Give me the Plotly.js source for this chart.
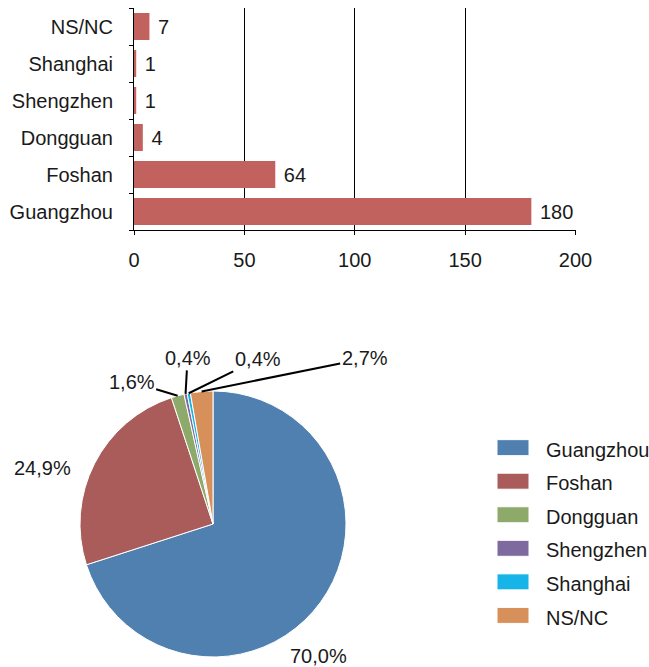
<!DOCTYPE html>
<html>
<head>
<meta charset="utf-8">
<script src="https://cdn.plot.ly/plotly-3.0.1.min.js"></script>
<style>
  html, body { margin: 0; padding: 0; background: #fff; overflow: hidden; }
  #chart { width: 649px; height: 667px; }
  .legend .legendtext { font-size: 20px !important; }
</style>
</head>
<body>
<div id="chart"></div>
<script>
// ---- data ----
const categories = ['Guangzhou', 'Foshan', 'Dongguan', 'Shengzhen', 'Shanghai', 'NS/NC'];
const counts = [180, 64, 4, 1, 1, 7];
const xTickValues = [0, 50, 100, 150, 200];
const pieColors = ['#4F80B0', '#AA5C5A', '#8EAA6A', '#7E6A9E', '#17B4E7', '#D8905A'];
const barColor = '#C1625E';

// ---- layout geometry (style) ----
const W = 649, H = 667;
const FONT = 'Liberation Sans, Arial, Helvetica, sans-serif';
const pieCx = 213, pieCy = 524, pieR = 133;
const pieDomX = [(pieCx - pieR) / W, (pieCx + pieR) / W];
const pieDomY = [(H - pieCy - pieR) / H, (H - pieCy + pieR) / H];

// label offsets for pie texts (pixels), style only
const labelOffsets = [
  {arrow: false, dx: -2, dy: 54},
  {arrow: false, dx: -52, dy: 4},
  {arrow: true, dx: -46, dy: -14},
  {arrow: true, dx: 2, dy: -36},
  {arrow: true, dx: 69, dy: -34},
  {arrow: true, dx: 163, dy: -33}
];

const total = counts.reduce((a, b) => a + b, 0);
const annotations = [];
let cum = 0;
counts.forEach((v, i) => {
  const frac = v / total;
  const mid = (cum + frac / 2) * 2 * Math.PI; // clockwise from top
  cum += frac;
  const px = pieCx + pieR * Math.sin(mid);
  const py = pieCy - pieR * Math.cos(mid);
  const txt = (frac * 100).toFixed(1).replace('.', ',') + '%';
  const o = labelOffsets[i];
  const a = {
    xref: 'paper', yref: 'paper',
    x: px / W, y: 1 - py / H,
    text: txt,
    font: {family: FONT, size: 20, color: '#1a1a1a'},
    xanchor: 'center', yanchor: 'middle'
  };
  if (o.arrow) {
    Object.assign(a, {showarrow: true, ax: o.dx, ay: o.dy, axref: 'pixel', ayref: 'pixel',
      arrowhead: 0, arrowwidth: 2, arrowcolor: '#000', standoff: 0, startstandoff: 0});
  } else {
    Object.assign(a, {showarrow: false, xshift: o.dx, yshift: -o.dy});
  }
  annotations.push(a);
});

const barTrace = {
  type: 'bar',
  orientation: 'h',
  y: categories,
  x: counts,
  marker: {color: barColor},
  width: 0.725,
  text: counts.map(v => '\u00a0' + v),
  textposition: 'outside',
  textfont: {family: FONT, size: 20, color: '#1a1a1a'},
  cliponaxis: false,
  showlegend: false,
  hoverinfo: 'x+y'
};

const pieTrace = {
  type: 'pie',
  labels: categories,
  values: counts,
  sort: false,
  direction: 'clockwise',
  rotation: 0,
  marker: {colors: pieColors, line: {color: '#ffffff', width: 1}},
  textinfo: 'none',
  domain: {x: pieDomX, y: pieDomY},
  showlegend: true
};

const layout = {
  width: W, height: H,
  margin: {l: 0, r: 0, t: 0, b: 0, autoexpand: false},
  paper_bgcolor: '#fff', plot_bgcolor: '#fff',
  font: {family: FONT, size: 20, color: '#1a1a1a'},
  separators: ', ',
  showlegend: true,
  xaxis: {
    domain: [134 / W, 575.5 / W],
    range: [0, 200],
    tickvals: xTickValues,
    showgrid: true, gridcolor: '#000', gridwidth: 1,
    zeroline: false,
    showline: true, linecolor: '#000', linewidth: 1,
    ticks: 'outside', ticklen: 4, tickcolor: '#000',
    tickfont: {family: FONT, size: 20, color: '#1a1a1a'},
    ticklabelstandoff: 8,
    anchor: 'y', fixedrange: true
  },
  yaxis: {
    domain: [(H - 230) / H, (H - 8) / H],
    type: 'category',
    categoryorder: 'array', categoryarray: categories,
    showline: true, linecolor: '#000', linewidth: 1,
    ticks: 'outside', ticklen: 4, tickcolor: '#000',
    tickson: 'boundaries',
    showgrid: false,
    tickfont: {family: FONT, size: 20, color: '#1a1a1a'},
    ticklabelstandoff: 16,
    anchor: 'x', fixedrange: true
  },
  legend: {
    x: 480 / W, y: 0.3615, xanchor: 'left', yanchor: 'top',
    font: {family: FONT, size: 23.5, color: '#1a1a1a'},
    itemwidth: 56,
    bgcolor: 'rgba(0,0,0,0)',
    traceorder: 'normal'
  },
  annotations: annotations
};

Plotly.newPlot('chart', [barTrace, pieTrace], layout, {displayModeBar: false, staticPlot: true}).then(() => {
  document.querySelectorAll('#chart .legend .legendpoints path').forEach(p => {
    p.setAttribute('d', 'M16,8H-16V-8H16Z');
  });
});
</script>
</body>
</html>
